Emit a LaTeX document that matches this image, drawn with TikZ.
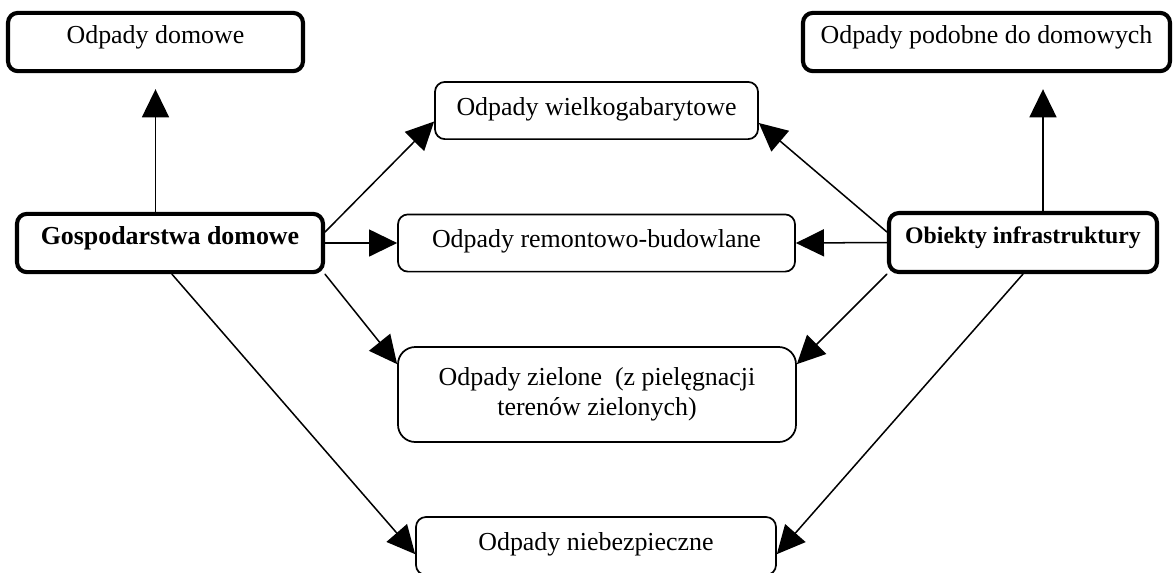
\documentclass[tikz,border=0pt]{standalone}
\usepackage{fontspec}
\setmainfont{Liberation Serif}
\usetikzlibrary{arrows.meta,calc}
\begin{document}
\begin{tikzpicture}[x=0.463pt, y=-0.463pt, font=\fontsize{12}{14}\selectfont, line join=round, line cap=round, >={Triangle[length=13pt,width=12.5pt]},
	box/.style={draw, inner sep=0pt, rounded corners=4.6pt},
	mainbox/.style={box, line width=1.9pt, text height=14pt, text depth=13pt},
	wastebox/.style={box, line width=0.8pt, text height=15.5pt, text depth=11pt},
	wd/.style={minimum width=#1*0.463pt},
	ht/.style={minimum height=#1*0.463pt},
	arr/.style={->, line width=0.7pt}]
	\useasboundingbox (0,0) rectangle (1173,572);
	% sources
	\node[mainbox, wd=306, ht=58, font=\fontsize{12}{14}\selectfont\bfseries] (gosp) at (170,243) {Gospodarstwa domowe};
	\node[mainbox, wd=268, ht=59, font=\fontsize{11}{13}\selectfont\bfseries] (obiekt) at (1023,242.5) {Obiekty infrastruktury};
	% waste types
	\node[mainbox, wd=295, ht=58] (dom) at (155.5,42) {Odpady domowe};
	\node[mainbox, wd=367, ht=58] (podob) at (986.5,42) {Odpady podobne do domowych};
	\node[wastebox, wd=323, ht=55] (wielko) at (596.5,110.5) {Odpady wielkogabarytowe};
	\node[wastebox, wd=397, ht=56] (remont) at (596.5,243) {Odpady remontowo-budowlane};
	\node[box, line width=0.8pt, rounded corners=8pt, align=center, wd=398, ht=95] (ziel) at (597,394.5) {Odpady zielone~ (z pielęgnacji\\terenów zielonych)};
	\node[wastebox, wd=360, ht=58] (niebez) at (596,546) {Odpady niebezpieczne};
	% arrows
	\draw[arr, shorten >=7.4pt] (dom |- gosp.north) -- (dom.south);
	\draw[arr, shorten >=7.4pt] ($(obiekt.north)+(20,0)$) coordinate (o1) -- (o1 |- podob.south);
	\draw[arr] ($(gosp.east)+(0,-11)$) -- ($(wielko.west)+(0,11)$);
	\draw[arr] (gosp.east) -- (remont.west);
	\draw[arr] (gosp.south east) -- ($(ziel.north west)+(0,18)$);
	\draw[arr] ($(gosp.south)+(2,0)$) -- ($(niebez.north west)+(0,38)$);
	\draw[arr] ($(obiekt.west)+(0,-10.5)$) -- ($(wielko.east)+(0,12.5)$);
	\draw[arr] (obiekt.west) -- (remont.east);
	\draw[arr] (obiekt.south west) -- ($(ziel.north east)+(0,18)$);
	\draw[arr] (obiekt.south) -- ($(niebez.north east)+(0,38)$);
\end{tikzpicture}
\end{document}
